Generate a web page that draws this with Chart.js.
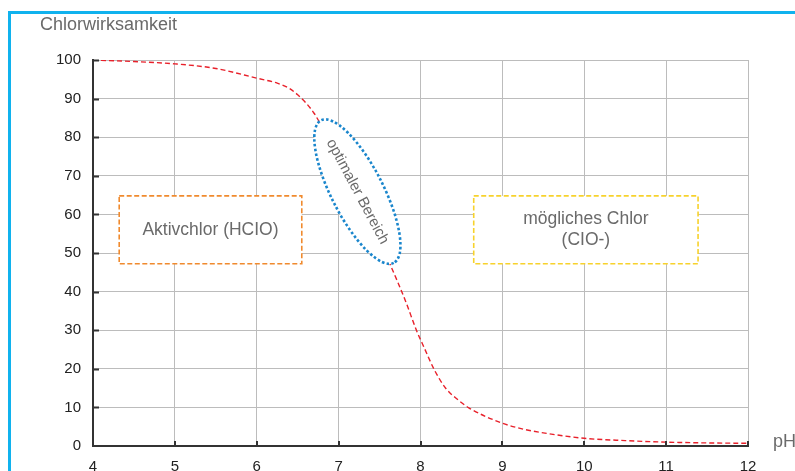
<!DOCTYPE html>
<html><head><meta charset="utf-8">
<script src="https://cdn.jsdelivr.net/npm/chart.js@4"></script>
<style>html,body{margin:0;padding:0;background:#fff}canvas{display:block}</style>
</head><body>
<canvas id="c" width="795" height="471"></canvas>
<script>
// ---- data ----
const phValues     = [4, 4.5, 5, 5.5, 6, 6.25, 6.4, 6.5, 6.6, 6.7, 6.78, 7.0, 7.25, 7.5, 7.63, 7.82, 7.95, 8.04, 8.17, 8.31, 8.45, 8.59, 9.0, 9.27, 9.5, 10, 10.5, 11, 11.5, 12];
const effectValues = [100, 99.6, 99.0, 97.8, 95.3, 94.0, 92.6, 91.0, 88.9, 86.2, 83.4, 75, 64.5, 53, 47, 37.4, 30, 25.7, 19.7, 14.9, 12.1, 9.9, 5.9, 4.3, 3.4, 2.0, 1.4, 1.0, 0.8, 0.7];
const xTickValues  = [4, 5, 6, 7, 8, 9, 10, 11, 12];
const yTickValues  = [0, 10, 20, 30, 40, 50, 60, 70, 80, 90, 100];
const yAxisTitle   = 'Chlorwirksamkeit';
const xAxisTitle   = 'pH';
const acidLabel    = ['Aktivchlor (HCIO)'];
const optimumLabel = 'optimaler Bereich';
const baseLabel    = ['mögliches Chlor', '(CIO-)'];

const FONT = '"Liberation Sans", Arial, Helvetica, sans-serif';
const TEXT_GRAY = '#6a6a6a';

const regionBoxes = [
  {lines: acidLabel, x0: 4.32, x1: 6.55, y0: 47.2, y1: 64.8, color: '#f08a2e'},
  {lines: baseLabel, x0: 8.65, x1: 11.39, y0: 47.2, y1: 64.8, color: '#f7d22c'}
];
const optimumEllipse = {cx: 7.229, cy: 65.9, a: 80, b: 26, angle: 63, textAngle: 62};

const framePlugin = {
  id: 'frame',
  beforeDraw(chart) {
    const ctx = chart.ctx;
    ctx.save();
    ctx.fillStyle = '#fff';
    ctx.fillRect(0, 0, chart.width, chart.height);
    ctx.fillStyle = '#10b2ee';
    ctx.fillRect(8, 11, chart.width - 8, 3);
    ctx.fillRect(8, 11, 3, chart.height - 11);
    ctx.restore();
  },
  afterDraw(chart) {
    const ctx = chart.ctx;
    const {bottom, right} = chart.chartArea;
    ctx.save();
    ctx.fillStyle = TEXT_GRAY;
    ctx.font = '18px ' + FONT;
    ctx.textBaseline = 'middle';
    ctx.textAlign = 'left';
    ctx.fillText(yAxisTitle, 40, 25);
    ctx.fillText(xAxisTitle, right + 25, bottom - 4);
    ctx.restore();
  }
};

const annotPlugin = {
  id: 'annot',
  afterDatasetsDraw(chart) {
    const ctx = chart.ctx;
    const xs = chart.scales.x, ys = chart.scales.y;
    ctx.save();
    // inward tick marks
    ctx.strokeStyle = '#333';
    ctx.lineWidth = 2;
    const {left, bottom} = chart.chartArea;
    yTickValues.forEach(v => {
      if (v === 0) return;
      const py = Math.round(ys.getPixelForValue(v)) + 0.5;
      ctx.beginPath(); ctx.moveTo(left, py); ctx.lineTo(left + 6, py); ctx.stroke();
    });
    xTickValues.forEach(v => {
      if (v === xTickValues[0]) return;
      const px = Math.round(xs.getPixelForValue(v));
      ctx.beginPath(); ctx.moveTo(px, bottom); ctx.lineTo(px, bottom - 5); ctx.stroke();
    });
    // boxes
    regionBoxes.forEach(b => {
      const x0 = xs.getPixelForValue(b.x0), x1 = xs.getPixelForValue(b.x1);
      const y0 = ys.getPixelForValue(b.y1), y1 = ys.getPixelForValue(b.y0);
      ctx.fillStyle = '#fff';
      ctx.fillRect(x0, y0, x1 - x0, y1 - y0);
      ctx.setLineDash([5, 2.5]);
      ctx.lineWidth = 1.6;
      ctx.strokeStyle = b.color;
      ctx.strokeRect(x0, y0, x1 - x0, y1 - y0);
      ctx.setLineDash([]);
      ctx.fillStyle = TEXT_GRAY;
      ctx.font = '17.5px ' + FONT;
      ctx.textAlign = 'center';
      ctx.textBaseline = 'middle';
      const cx = (x0 + x1) / 2, cy = (y0 + y1) / 2;
      const lh = 20.5;
      b.lines.forEach((t, i) => {
        ctx.fillText(t, cx, cy + (i - (b.lines.length - 1) / 2) * lh);
      });
    });
    // ellipse
    const e = optimumEllipse;
    const ecx = xs.getPixelForValue(e.cx), ecy = ys.getPixelForValue(e.cy);
    ctx.save();
    ctx.translate(ecx, ecy);
    ctx.rotate(e.angle * Math.PI / 180);
    ctx.beginPath();
    ctx.ellipse(0, 0, e.a, e.b, 0, 0, Math.PI * 2);
    ctx.fillStyle = '#fff';
    ctx.fill();
    ctx.setLineDash([2.6, 2.2]);
    ctx.lineWidth = 2.6;
    ctx.strokeStyle = '#1a86cc';
    ctx.stroke();
    ctx.restore();
    ctx.save();
    ctx.translate(ecx, ecy);
    ctx.rotate(e.textAngle * Math.PI / 180);
    ctx.fillStyle = TEXT_GRAY;
    ctx.font = '15px ' + FONT;
    ctx.textAlign = 'center';
    ctx.textBaseline = 'middle';
    ctx.fillText(optimumLabel, 0, 0);
    ctx.restore();
    ctx.restore();
  }
};

new Chart(document.getElementById('c'), {
  type: 'line',
  data: {
    datasets: [{
      data: phValues.map((p, i) => ({x: p, y: effectValues[i]})),
      borderColor: '#e8202a',
      borderWidth: 1.4,
      borderDash: [5, 3],
      pointRadius: 0,
      fill: false,
      cubicInterpolationMode: 'monotone'
    }]
  },
  options: {
    responsive: false,
    animation: false,
    devicePixelRatio: 1,
    layout: {padding: {top: 60, right: 47, left: 0, bottom: 0}},
    plugins: {legend: {display: false}, tooltip: {enabled: false}},
    scales: {
      x: {
        type: 'linear', min: 4, max: 12,
        afterBuildTicks: s => { s.ticks = xTickValues.map(v => ({value: v})); },
        afterFit: s => { s.height = 25; },
        grid: {color: '#bcbcbc', lineWidth: 1, drawTicks: false},
        border: {color: '#333', width: 2},
        ticks: {color: '#222', font: {family: FONT, size: 15}, padding: 12, maxRotation: 0}
      },
      y: {
        type: 'linear', min: 0, max: 100,
        afterBuildTicks: s => { s.ticks = yTickValues.map(v => ({value: v})); },
        afterFit: s => { s.width = 93; },
        grid: {color: '#bcbcbc', lineWidth: 1, drawTicks: false},
        border: {color: '#333', width: 2},
        ticks: {color: '#222', font: {family: FONT, size: 15}, padding: 12}
      }
    }
  },
  plugins: [framePlugin, annotPlugin]
});
</script>
</body></html>
